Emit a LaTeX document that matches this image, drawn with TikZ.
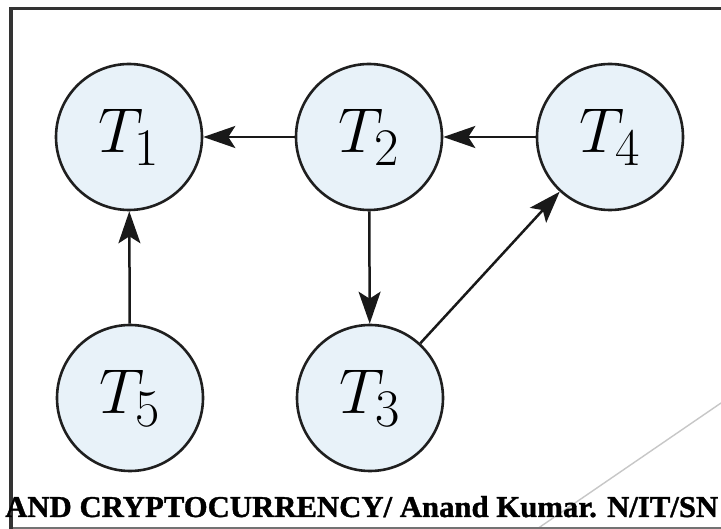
\documentclass[tikz,border=0pt]{standalone}
\usepackage{fontspec}
\usetikzlibrary{arrows.meta}
\newfontfamily\footfont[BoldFeatures={FakeBold=1.2}]{Liberation Serif}
\definecolor{circfill}{RGB}{232,242,249}
\newcommand\tlab[1]{\scalebox{2.55}{\Huge$T_{\raisebox{-1.5pt}{$\scriptstyle #1$}}$}}
\begin{document}
\begin{tikzpicture}[x=1pt,y=-1pt,
  tnode/.style={circle, draw=black!88, line width=2.6pt, fill=circfill, minimum size=146pt, inner sep=0pt},
  arr/.style={-{Stealth[length=32pt,width=22pt,inset=7pt]}, line width=2.5pt, draw=black!90}]
\useasboundingbox (0,0) rectangle (721,529);
\fill[white] (0,0) rectangle (721,529);
% slide decorations
\draw[line width=1.4pt, black!22] (537,529) -- (721,403);
\draw[line width=1.5pt, black!55] (11,528) -- (721,528);
\draw[line width=3.5pt, black!80] (11,529) -- (11,8.5) -- (721,8.5);
% nodes
\node[tnode] (t1) at (129,137) {\tlab{1}};
\node[tnode] (t2) at (369,137) {\tlab{2}};
\node[tnode] (t4) at (610,137) {\tlab{4}};
\node[tnode] (t5) at (130,398) {\tlab{5}};
\node[tnode] (t3) at (370,398) {\tlab{3}};
% edges
\draw[arr] (t2) -- (t1);
\draw[arr] (t4) -- (t2);
\draw[arr] (t5) -- (t1);
\draw[arr] (t2) -- (t3);
\draw[arr] (t3) -- (t4);
% footer
\node[anchor=base west, inner sep=0pt] (foot) at (5,517) {\resizebox{713pt}{21pt}{\footfont\bfseries AND CRYPTOCURRENCY/ Anand Kumar. N/IT/SN}};
\end{tikzpicture}
\end{document}
